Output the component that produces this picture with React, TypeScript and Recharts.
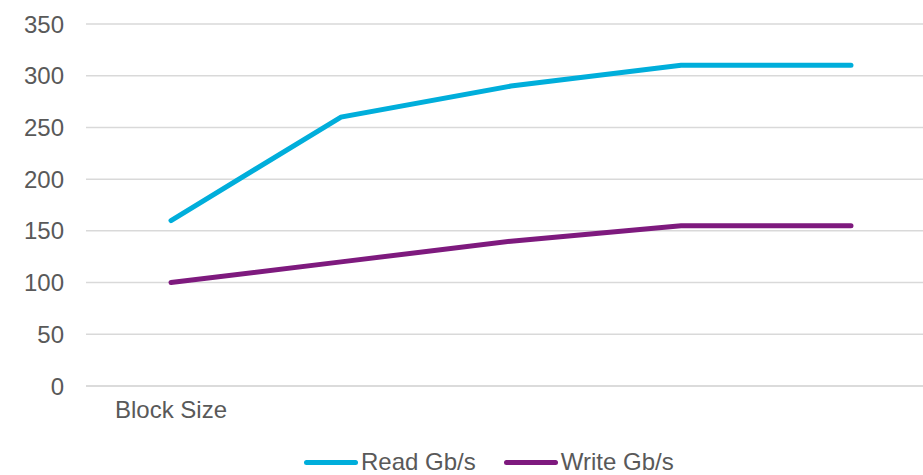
import { LineChart, Line, XAxis, YAxis, CartesianGrid, Legend } from "recharts";

const categories = ["Block Size", "", "", "", ""];
const readGbps = [160, 260, 290, 310, 310];
const writeGbps = [100, 120, 140, 155, 155];
const yTicks = [0, 50, 100, 150, 200, 250, 300, 350];

const READ_COLOR = "#00AEDB";
const WRITE_COLOR = "#7E1A7E";
const TEXT_COLOR = "#595959";
const GRID_COLOR = "#D9D9D9";
const FONT = '"Liberation Sans", Arial, sans-serif';
const FONT_SIZE = 24;

const data = categories.map((name, i) => ({
  key: i,
  name,
  read: readGbps[i],
  write: writeGbps[i],
}));

const legendItems = [
  { label: "Read Gb/s", color: READ_COLOR },
  { label: "Write Gb/s", color: WRITE_COLOR },
];

function ChartLegend() {
  return (
    <div
      style={{
        display: "flex",
        alignItems: "center",
        height: 26,
        paddingLeft: 304,
        fontFamily: FONT,
        fontSize: FONT_SIZE,
        color: TEXT_COLOR,
        lineHeight: "26px",
      }}
    >
      {legendItems.map((item) => (
        <div key={item.label} style={{ display: "flex", alignItems: "center", marginRight: 28 }}>
          <span
            style={{
              display: "inline-block",
              width: 54,
              height: 5,
              borderRadius: 3,
              background: item.color,
              marginRight: 3,
            }}
          />
          <span>{item.label}</span>
        </div>
      ))}
    </div>
  );
}

export default function App() {
  return (
    <div style={{ position: "absolute", left: 0, top: 0, width: 923, height: 475, overflow: "hidden", background: "#fff" }}>
      <LineChart width={940} height={475} data={data} margin={{ top: 24, right: 4, left: 0, bottom: 0 }}>
        <CartesianGrid vertical={false} stroke={GRID_COLOR} strokeWidth={1.5} />
        <XAxis
          dataKey="key"
          tickFormatter={(i: number) => categories[i]}
          axisLine={{ stroke: GRID_COLOR, strokeWidth: 1.5 }}
          tickLine={false}
          tickSize={0}
          tickMargin={15}
          height={61}
          interval={0}
          padding={{ left: 85, right: 85 }}
          tick={{ fill: TEXT_COLOR, fontSize: FONT_SIZE, fontFamily: FONT }}
        />
        <YAxis
          domain={[0, 350]}
          ticks={yTicks}
          width={86}
          axisLine={false}
          tickLine={false}
          tickSize={0}
          tickMargin={22}
          tick={{ fill: TEXT_COLOR, fontSize: FONT_SIZE, fontFamily: FONT }}
        />
        <Legend
          verticalAlign="bottom"
          height={28}
          content={() => <ChartLegend />}
          wrapperStyle={{ left: 0, width: 923, top: 449 }}
        />
        <Line type="linear" dataKey="read" stroke={READ_COLOR} strokeWidth={5} strokeLinecap="round" dot={false} isAnimationActive={false} />
        <Line type="linear" dataKey="write" stroke={WRITE_COLOR} strokeWidth={5} strokeLinecap="round" dot={false} isAnimationActive={false} />
      </LineChart>
    </div>
  );
}
